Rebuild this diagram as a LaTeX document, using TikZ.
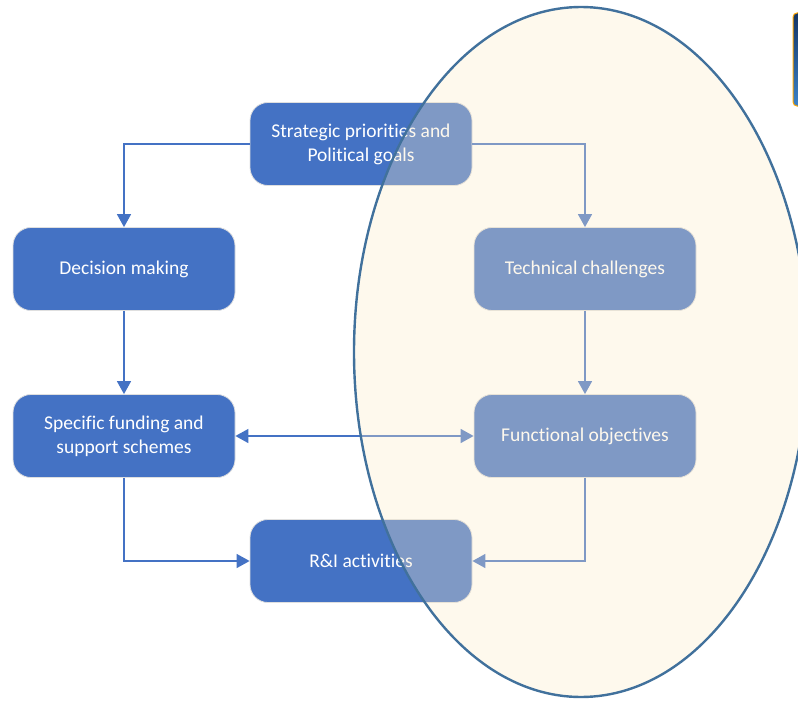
\documentclass[tikz,border=0pt]{standalone}
\usepackage{xcolor}
\usepackage{fontspec}
\setmainfont{Carlito}[Ligatures=NoCommon]
\usepackage{tikz}
\usetikzlibrary{positioning, shapes, calc, arrows.meta}
\definecolor{boxblue}{RGB}{68,114,196}
\definecolor{ovalfill}{RGB}{253,236,200}
\definecolor{ovalline}{RGB}{65,113,156}
\definecolor{tabtop}{RGB}{20,52,100}
\definecolor{tabbottom}{RGB}{60,130,200}

\begin{document}
\begin{tikzpicture}[x=1pt, y=-1pt,
	box/.style={draw=white!75!gray, line width=0.8pt, fill=boxblue, rounded corners=18pt, minimum width=222pt, minimum height=83pt, text=white, align=center, font=\fontsize{19.5}{24}\selectfont},
	link/.style={boxblue, line width=1.5pt, -{Triangle[length=13pt,width=14pt]}}]
			\useasboundingbox (0,0) rectangle (798,701);
			\pgfmathsetmacro{\leftx}{124}
			\pgfmathsetmacro{\midx}{361}
			\pgfmathsetmacro{\rightx}{585}
			
			\node[box] (strategic) at (\midx,144) {Strategic priorities and\\Political goals};
			\node[box] (decision) at (\leftx,269) {Decision making};
			\node[box] (technical) at (\rightx,269) {Technical challenges};
			\node[box] (funding) at (\leftx,436) {Specific funding and\\support schemes};
			\node[box] (functional) at (\rightx,436) {Functional objectives};
			\node[box] (rni) at (\midx,561) {R\&I activities};
			
			\draw[link] (strategic.west) -| (decision.north);
			\draw[link] (strategic.east) -| (technical.north);
			\draw[link] (decision.south) -- (funding.north);
			\draw[link] (technical.south) -- (functional.north);
			\draw[link, {Triangle[length=13pt,width=14pt]}-{Triangle[length=13pt,width=14pt]}] (funding.east) -- (functional.west);
			\draw[link] (funding.south) |- (rni.west);
			\draw[link] (functional.south) |- (rni.east);
			
			%% oval on top of the right column
			\draw[ovalline, line width=2.4pt, fill=ovalfill, fill opacity=0.32] (581,352) ellipse [x radius=227, y radius=345];
			
			%% cut-off tab at the top right
			\draw[draw=orange!70!yellow, line width=1pt, top color=tabtop, bottom color=tabbottom, rounded corners=4pt] (793,13) rectangle (820,106);
\end{tikzpicture}
\end{document}
